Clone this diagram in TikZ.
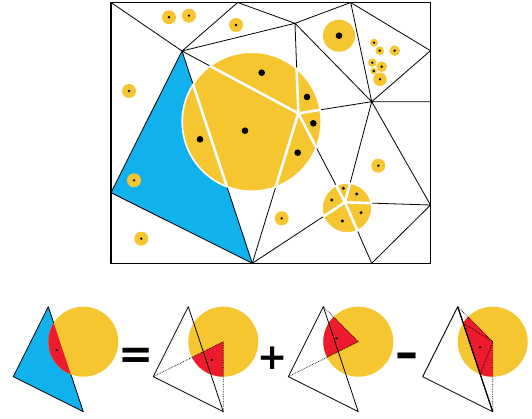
\documentclass[tikz,border=0pt]{standalone}
\usepackage{fontspec}
\newfontfamily\signfont{DejaVu Sans}
\usetikzlibrary{calc}
\definecolor{sunyellow}{HTML}{F6C630}
\definecolor{skyblue}{HTML}{10B1EC}
\definecolor{cutred}{HTML}{EE1A2E}

\begin{document}
\begin{tikzpicture}[x=1pt,y=-1pt,line join=round, every node/.style={inner sep=0pt}]
\tikzstyle{edge}=[line width=0.8pt]
\tikzstyle{split}=[white, line width=2.6pt]
\tikzstyle{rim}=[fill=sunyellow, draw=white, line width=1.6pt]
\tikzstyle{guide}=[densely dotted, line width=0.7pt]
\tikzstyle{sign}=[font=\signfont\bfseries\fontsize{42}{42}\selectfont]
\useasboundingbox (0,0) rectangle (532,419);

\coordinate (tl) at (111,2.5);
\coordinate (a) at (237.7,2.5);
\coordinate (b) at (350.7,2.5);
\coordinate (c) at (182,51);
\coordinate (d) at (295,23.3);
\coordinate (e) at (430.5,50.7);
\coordinate (f) at (371.7,101.7);
\coordinate (g) at (430.5,101.7);
\coordinate (h) at (111,192.7);
\coordinate (i) at (252.3,263.3);
\coordinate (j) at (430.5,205);
\coordinate (k) at (371.7,263.3);
\coordinate (p) at (298.3,113.3);
\coordinate (s) at (345,202.3);
\coordinate (bigc) at (251.7,121.7);
\coordinate (smallc) at (347,208);

\filldraw[fill=skyblue, edge] (c) -- (h) -- (i) -- cycle;
\draw[edge] (tl) -- (c) (a) -- (c) (a) -- (d) (d) -- (b) (c) -- (d)
  (d) -- (p) (d) -- (f) (b) -- (f) (b) -- (e) (e) -- (f) (f) -- (g)
  (f) -- (p) (f) -- (s) (f) -- (j) (j) -- (s) (j) -- (k) (k) -- (s)
  (i) -- (s) (i) -- (p) (c) -- (p) (p) -- (s);

\filldraw[rim] (bigc) circle[radius=69.5];
\begin{scope}
\clip (bigc) circle[radius=69.5];
\draw[split] (p) -- (c) (p) -- (d) (p) -- (f) (p) -- (s) (p) -- (i) (c) -- (i);
\end{scope}
\filldraw[rim] (smallc) circle[radius=25];
\begin{scope}
\clip (smallc) circle[radius=25];
\draw[split] (s) -- (p) (s) -- (f) (s) -- (j) (s) -- (k) (s) -- (i);
\end{scope}

\foreach \x/\y in {261.7/72.7, 307/97, 313.3/123.3, 297.7/152.7, 245/130.7, 200/139.3}
  \fill (\x,\y) circle[radius=3.3];
\foreach \x/\y in {343.3/188.3, 356.7/194, 331.7/200, 361/212.7, 342.3/221}
  \fill (\x,\y) circle[radius=1.7];
\foreach \x/\y/\r in {169/17.3/7, 189/15.7/7, 236/25/7, 129/91/7, 134/180.3/7, 141.3/238.7/7,
    281.7/218.3/7, 378.3/165.7/7, 374/42.7/4, 379.7/50.7/4.3, 394.7/50.7/5.3, 372.3/62.7/4.3,
    373.7/71/3.3, 381.7/66.7/5.3, 380/79.3/6.7}
  {\fill[sunyellow] (\x,\y) circle[radius=\r]; \fill (\x,\y) circle[radius=1.3];}
\fill[sunyellow] (339,35.7) circle[radius=16];
\fill (339,35.7) circle[radius=3.3];

\draw[line width=1.3pt] (tl) rectangle (430.5,263.3);

\begin{scope}[shift={(48.3,306.7)}]
\coordinate (v1) at (0,0); \coordinate (v2) at (-35,70); \coordinate (v3) at (35,105); \coordinate (o) at (35,35);
\filldraw[fill=skyblue, edge] (v1) -- (v2) -- (v3) -- cycle;
\fill[sunyellow] (o) circle[radius=35];
\begin{scope}
\clip (v1) -- (v2) -- (v3) -- cycle;
\fill[cutred] (o) circle[radius=35];
\end{scope}
\fill (8.4,43.3) circle[radius=1.3];
\end{scope}

\node[sign] (eq) at (135.8,358.7) {=};

\begin{scope}[shift={(188.3,306.7)}]
\coordinate (v1) at (0,0); \coordinate (v2) at (-35,70); \coordinate (v3) at (35,105); \coordinate (o) at (35,35);
\fill[sunyellow] (o) circle[radius=35];
\begin{scope}
\clip (o) -- (v2) -- (v3) -- cycle;
\fill[cutred] (o) circle[radius=35];
\end{scope}
\draw[guide] (o) -- (v2) (o) -- (v3);
\draw[edge] (v1) -- (v2) -- (v3) -- cycle;
\fill (23.4,53.3) circle[radius=1.3];
\end{scope}

\node[sign, font=\signfont\bfseries\fontsize{36}{36}\selectfont] (plus) at (272.5,358) {+};

\begin{scope}[shift={(323.3,306.7)}]
\coordinate (v1) at (0,0); \coordinate (v2) at (-35,70); \coordinate (v3) at (35,105); \coordinate (o) at (35,35);
\fill[sunyellow] (o) circle[radius=35];
\begin{scope}
\clip (o) -- (v1) -- (v2) -- cycle;
\fill[cutred] (o) circle[radius=35];
\end{scope}
\draw[guide] (o) -- (v1) (o) -- (v2);
\draw[edge] (v1) -- (v2) -- (v3) -- cycle;
\fill (13.4,31.6) circle[radius=1.3];
\end{scope}

\node[sign, font=\signfont\bfseries\fontsize{46}{46}\selectfont] (minus) at (407,360.5) {–};

\begin{scope}[shift={(457.7,306.7)}]
\coordinate (v1) at (0,0); \coordinate (v2) at (-35,70); \coordinate (v3) at (35,105); \coordinate (o) at (35,35);
\coordinate (x1) at ($(v1)!0.155!(v3)$); \coordinate (x2) at ($(v1)!0.645!(v3)$);
\fill[sunyellow] (o) circle[radius=35];
\begin{scope}
\clip (o) -- (v1) -- (v3) -- cycle;
\fill[cutred] (o) circle[radius=35];
\end{scope}
\draw[guide] (o) -- (v1) (o) -- (v3) (o) -- (x1) (o) -- (x2);
\draw[edge] (v1) -- (v2) -- (v3) -- cycle;
\draw[line width=1.2pt] (v1) -- (v3);
\fill (22.3,40.6) circle[radius=1.3];
\end{scope}
\end{tikzpicture}
\end{document}
